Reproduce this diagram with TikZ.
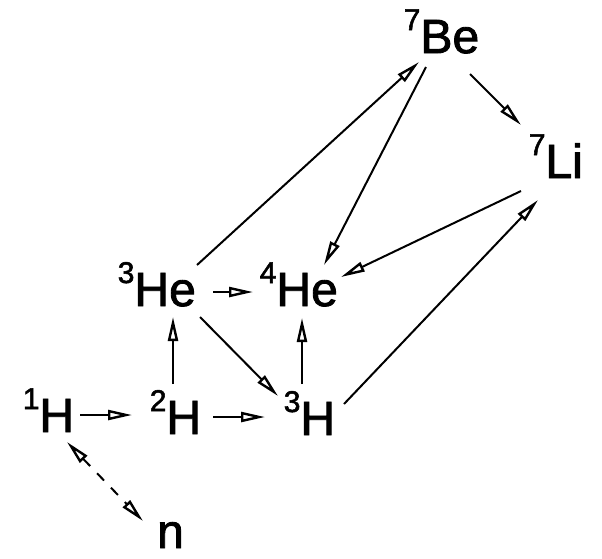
\documentclass[tikz,border=0pt]{standalone}
\usepackage{fontspec}
\setmainfont{Liberation Sans}
\newfontfamily\nucfont{Liberation Sans}[FakeBold=1.8]
\usetikzlibrary{arrows.meta}
\newcommand{\iso}[2]{{\fontsize{30}{30}\selectfont\raisebox{23pt}{#1}}#2}
\begin{document}
\begin{tikzpicture}[x=1pt,y=-1pt,
  nuc/.style={inner sep=0pt,anchor=base west,font=\nucfont\fontsize{48}{48}\selectfont},
  rx/.style={line width=2pt,-{Triangle[open,length=24pt,width=10pt,line width=2.4pt]}},
  rxboth/.style={line width=2pt,{Triangle[open,length=24pt,width=10pt,line width=2.4pt]}-{Triangle[open,length=24pt,width=10pt,line width=2.4pt]},dash pattern=on 10pt off 10pt}]
\useasboundingbox[fill=white] (0,0) rectangle (602,558);
\node[nuc] (be7) at (403.6,53) {\iso{7}{Be}};
\node[nuc] (li7) at (528.6,178) {\iso{7}{Li}};
\node[nuc] (he3) at (117.6,306) {\iso{3}{He}};
\node[nuc] (he4) at (259.6,306) {\iso{4}{He}};
\node[nuc] (h1) at (22.6,432) {\iso{1}{H}};
\node[nuc] (h2) at (149.6,434) {\iso{2}{H}};
\node[nuc] (h3) at (283.6,435) {\iso{3}{H}};
\node[nuc] (n) at (157,548) {n};
% hydrogen chain
\draw[rx] ([shift={(57.4,-17)}]h1.base west) -- ([shift={(-17.6,-19)}]h2.base west);
\draw[rx] ([shift={(63.4,-17)}]h2.base west) -- ([shift={(-18.6,-18)}]h3.base west);
\draw[rx] ([shift={(23.4,-50)}]h2.base west) -- ([shift={(55.4,11)}]he3.base west);
\draw[rx] ([shift={(95.4,-14)}]he3.base west) -- ([shift={(-6.6,-14)}]he4.base west);
\draw[rx] ([shift={(82.4,11)}]he3.base west) -- ([shift={(-5.6,-39)}]h3.base west);
\draw[rx] ([shift={(18.4,-51)}]h3.base west) -- ([shift={(42.4,12)}]he4.base west);
% heavier
\draw[rx] ([shift={(79.4,-41)}]he3.base west) -- ([shift={(15.4,9)}]be7.base west);
\draw[rx] ([shift={(22.4,14)}]be7.base west) -- ([shift={(64.4,-41)}]he4.base west);
\draw[rx] ([shift={(66.4,21)}]be7.base west) -- ([shift={(-7.6,-53)}]li7.base west);
\draw[rx] ([shift={(-7.6,13)}]li7.base west) -- ([shift={(81.4,-29)}]he4.base west);
\draw[rx] ([shift={(60.4,-31)}]h3.base west) -- ([shift={(9.4,22)}]li7.base west);
% neutron
\draw[rxboth] ([shift={(44.4,10)}]h1.base west) -- ([shift={(-14,-27)}]n.base west);
\end{tikzpicture}
\end{document}
